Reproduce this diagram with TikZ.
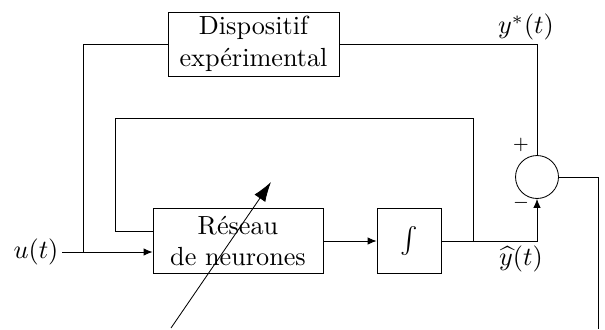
\documentclass[tikz,border=0pt]{standalone}
\usetikzlibrary{arrows.meta}
\begin{document}
\begin{tikzpicture}[x=0.3817pt,y=-0.3817pt,line width=0.32pt,
  block/.style={draw,fill=white,inner sep=0pt,align=center},
  sumnode/.style={draw,circle,inner sep=0pt,minimum size=16.4pt},
  sig/.style={-{Latex[length=3.4pt,width=2.8pt]}},
  adapt/.style={-{Latex[length=7.5pt,width=5pt]}},
  lbl/.style={inner sep=0pt}]
\useasboundingbox (0,0) rectangle (605,329);

% blocks
\node[block,minimum width=65.3pt,minimum height=24.4pt] (disp) at (253.5,44) {Dispositif\\ exp\'erimental};
\node[block,minimum width=64.9pt,minimum height=24.8pt] (res) at (238,241) {R\'eseau\\de neurones};
\node[block,minimum width=24.4pt,minimum height=24.8pt] (integ) at (409,241) {$\int$};
\node[sumnode] (sum) at (537,177) {};

% labels
\node[lbl] (ulab) at (36,252) {$u(t)$};
\node[lbl] (ystar) at (526,27) {$y^*(t)$};
\node[lbl,anchor=base] (yhat) at (521,265) {$\widehat{y}(t)$};
\node[lbl,font=\scriptsize] (plus) at (521,145) {$+$};
\node[lbl,font=\scriptsize] (minus) at (521,203) {$-$};

% helper points
\coordinate (uin) at (62,252);
\coordinate (branch) at (83,252);
\coordinate (tap) at (473,241);
\coordinate (loopTR) at (473,118);
\coordinate (loopTL) at (115,118);
\coordinate (fbin) at (153,231);
\coordinate (errout) at (598,329);
\coordinate (adapt0) at (171,328);
\coordinate (adapt1) at (271,182);

% signal paths
\draw[sig] (uin) -- (uin -| res.west);
\draw (branch) |- (disp.west);
\draw (disp.east) -| (sum.north);
\draw[sig] (res.east) -- (integ.west);
\draw[sig] (integ.east) -| (sum.south);
\draw (tap) -- (loopTR) -- (loopTL) |- (fbin);
\draw (sum.east) -| (errout);

% adaptation arrow
\draw[adapt] (adapt0) -- (adapt1);
\end{tikzpicture}
\end{document}
